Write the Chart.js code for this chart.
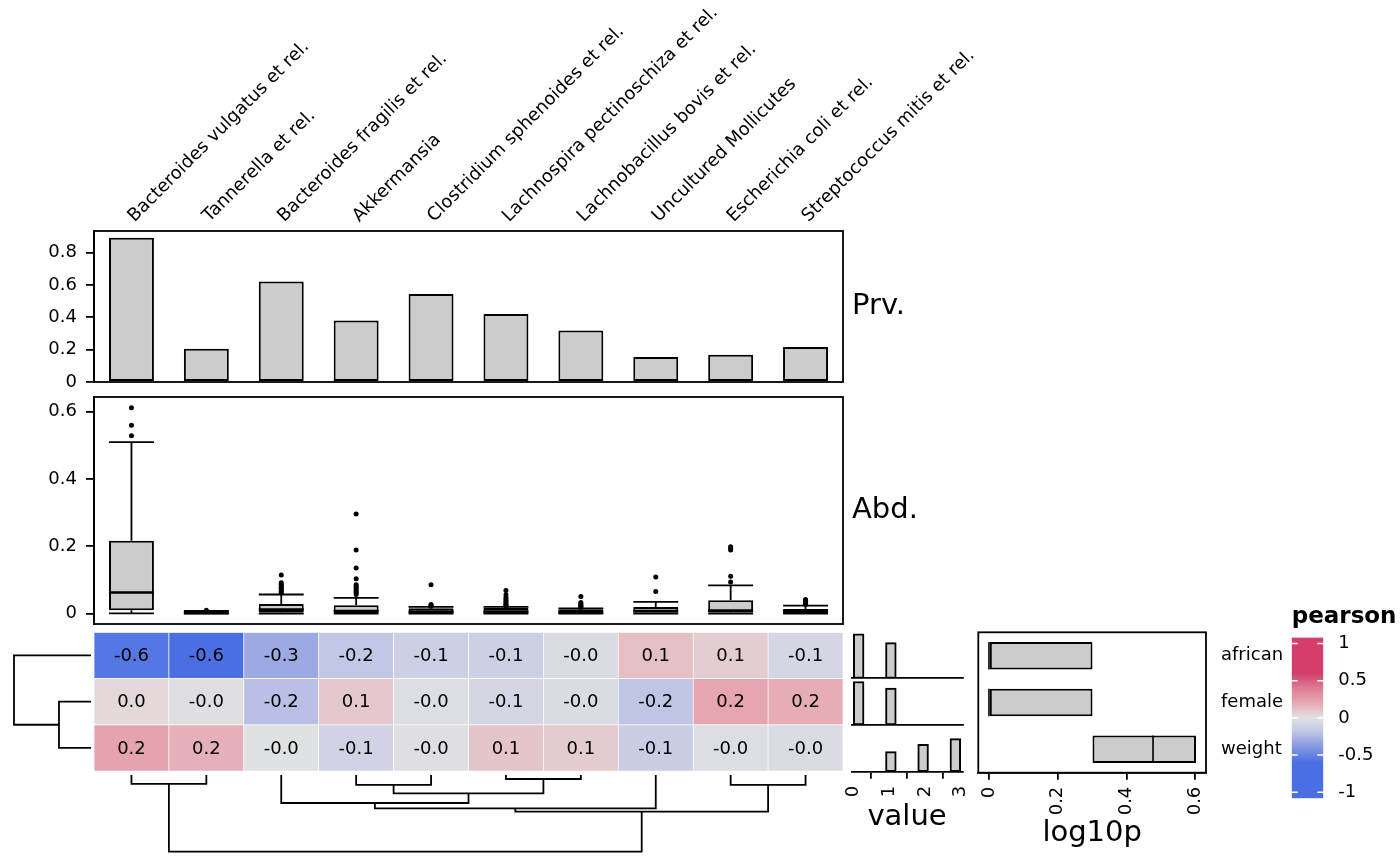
<!DOCTYPE html>
<html>
<head>
<meta charset="utf-8">
<script src="https://cdn.jsdelivr.net/npm/chart.js@4.4.1/dist/chart.umd.min.js"></script>
<style>
  body { margin:0; background:#fff; }
  #wrap { position:relative; width:1400px; height:866px; overflow:hidden; background:#fff; }
  #wrap canvas { position:absolute; }
</style>
</head>
<body>
<div id="wrap">
  <canvas id="prvChart" width="1100" height="410" style="left:0;top:0"></canvas>
  <canvas id="abdChart" width="940" height="284" style="left:0;top:367px"></canvas>
  <canvas id="heatChart" width="850" height="150" style="left:0;top:625px"></canvas>
  <canvas id="rowDendro" width="94" height="150" style="left:0;top:625px"></canvas>
  <canvas id="colDendro" width="850" height="90" style="left:0;top:770px"></canvas>
  <canvas id="val1" width="175" height="50" style="left:820px;top:630px"></canvas>
  <canvas id="val2" width="175" height="50" style="left:820px;top:676px"></canvas>
  <canvas id="val3" width="175" height="112" style="left:820px;top:723px"></canvas>
  <canvas id="pChart" width="320" height="251" style="left:970px;top:600px"></canvas>
  <canvas id="legendChart" width="120" height="226" style="left:1280px;top:600px"></canvas>
</div>
<script>
// DATA
const taxa = ['Bacteroides vulgatus et rel.', 'Tannerella et rel.', 'Bacteroides fragilis et rel.',
  'Akkermansia', 'Clostridium sphenoides et rel.', 'Lachnospira pectinoschiza et rel.',
  'Lachnobacillus bovis et rel.', 'Uncultured Mollicutes', 'Escherichia coli et rel.',
  'Streptococcus mitis et rel.'];

const prevalence = [0.892, 0.206, 0.621, 0.380, 0.545, 0.421, 0.318, 0.155, 0.169, 0.217];
const prvTicks = [0, 0.2, 0.4, 0.6, 0.8];

const abdLo  = [0.001, 0, 0, 0, 0, 0, 0, 0, 0, 0];
const abdQ1  = [0.010, 0.001, 0.003, 0.002, 0.002, 0.002, 0.002, 0.003, 0.003, 0.002];
const abdMed = [0.063, 0.002, 0.012, 0.008, 0.006, 0.006, 0.005, 0.008, 0.009, 0.006];
const abdQ3  = [0.217, 0.005, 0.029, 0.025, 0.016, 0.017, 0.013, 0.020, 0.040, 0.014];
const abdHi  = [0.510, 0.008, 0.057, 0.047, 0.020, 0.020, 0.016, 0.035, 0.084, 0.024];
const abdOutliers = [
  [0.612, 0.560, 0.529],
  [0.010],
  [0.115, 0.092, 0.087, 0.083, 0.078, 0.074, 0.070, 0.066, 0.062],
  [0.296, 0.189, 0.136, 0.104, 0.086, 0.081, 0.077, 0.072, 0.067, 0.062, 0.057],
  [0.086, 0.027, 0.024, 0.022],
  [0.069, 0.056, 0.048, 0.042, 0.037, 0.032, 0.028, 0.024, 0.021],
  [0.051, 0.033, 0.029, 0.025, 0.022, 0.019],
  [0.109, 0.066],
  [0.199, 0.194, 0.189, 0.111, 0.094],
  [0.042, 0.039, 0.036, 0.033, 0.030, 0.027]
];
const abdTicks = [0, 0.2, 0.4, 0.6];

const covariates = ['african', 'female', 'weight'];
const pearsonAfrican = [-0.56, -0.63, -0.31, -0.18, -0.13, -0.12, -0.04, 0.12, 0.07, -0.08];
const pearsonFemale  = [0.03, -0.02, -0.21, 0.09, -0.03, -0.08, -0.04, -0.19, 0.21, 0.18];
const pearsonWeight  = [0.22, 0.17, -0.01, -0.10, -0.02, 0.10, 0.08, -0.14, -0.03, -0.04];

// dendrogram merges: [node a, node b, height]; leaves are 0..n-1, merge k is node n+k
const colMerges = [
  [0, 1, 0.117], [3, 4, 0.130], [5, 6, 0.052], [11, 12, 0.239], [2, 13, 0.365],
  [14, 7, 0.434], [8, 9, 0.130], [15, 16, 0.478], [10, 17, 1.0]
];
const rowMerges = [[1, 2, 0.416], [0, 3, 1.0]];

const histBins = [0.15, 0.45, 0.75, 1.05, 1.35, 1.65, 1.95, 2.25, 2.55, 2.85];
const countAfrican = [56, 0, 0, 45, 0, 0, 0, 0, 0, 0];
const countFemale  = [54, 0, 0, 46, 0, 0, 0, 0, 0, 0];
const countWeight  = [0, 0, 0, 25, 0, 0, 34, 0, 0, 41];
const valueTicks = [0, 1, 2, 3];

const log10pLow  = [0, 0, 0.301];
const log10pHigh = [0.301, 0.301, 0.602];
const log10pMed  = [0, 0, 0.477];
const log10pTicks = [0, 0.2, 0.4, 0.6];

const legendTicks = [1, 0.5, 0, -0.5, -1];

// ======================================
// HELPERS
// ======================================
Chart.defaults.font.family = "'DejaVu Sans', sans-serif";
Chart.defaults.font.size = 18;
Chart.defaults.color = '#000';
Chart.defaults.animation = false;
Chart.defaults.plugins.legend.display = false;
Chart.defaults.plugins.tooltip.enabled = false;

const FONT = "'DejaVu Sans', sans-serif";
const GREY = '#CCCCCC';
const LW = 2;

const fmt = v => v === 0 ? '0' : String(v);
const fixedTicks = arr => scale => { scale.ticks = arr.map(v => ({value: v})); };

const negStops = [[0, '#E2E2E2'], [0.3, '#C3C7E6'], [0.55, '#97A4E2'], [1, '#4A6FE3']];
const posStops = [[0, '#E2E2E2'], [0.33, '#E6A8B3'], [0.66, '#DE7D94'], [1, '#D33F6A']];

function hex(c){ return [1, 3, 5].map(k => parseInt(c.substr(k, 2), 16)); }

function colorFor(v){
  const t = Math.min(Math.abs(v) / 0.6, 1);
  const stops = v < 0 ? negStops : posStops;
  for(let k = 1; k < stops.length; k++){
    if(t <= stops[k][0]){
      const [t0, c0] = stops[k - 1], [t1, c1] = stops[k];
      const f = (t - t0) / (t1 - t0);
      const a = hex(c0), b = hex(c1);
      return 'rgb(' + a.map((x, j) => Math.round(x + (b[j] - x) * f)).join(',') + ')';
    }
  }
  return stops[stops.length - 1][1];
}

const frame = {
  id: 'frame',
  afterDraw(chart){
    const {ctx, chartArea: a} = chart;
    ctx.save();
    ctx.strokeStyle = '#000';
    ctx.lineWidth = 1.8;
    ctx.strokeRect(a.left, a.top, a.right - a.left, a.bottom - a.top);
    ctx.restore();
  }
};

function sideLabel(text){
  return {
    id: 'sideLabel',
    afterDraw(chart){
      const {ctx, chartArea: a} = chart;
      ctx.save();
      ctx.font = '29px ' + FONT;
      ctx.fillStyle = '#000';
      ctx.textBaseline = 'middle';
      ctx.fillText(text, a.right + 9, (a.top + a.bottom) / 2);
      ctx.restore();
    }
  };
}

function yAxis(min, max, ticks, width){
  return {
    min, max,
    afterBuildTicks: fixedTicks(ticks),
    afterFit: s => { s.width = width; },
    ticks: { callback: fmt, padding: 9 },
    grid: { drawOnChartArea: false, tickLength: 8, color: '#000', lineWidth: 1.8 },
    border: { color: '#000', width: 1.8 }
  };
}

function dendroSegments(merges, n){
  const pos = [], h = [];
  for(let i = 0; i < n; i++){ pos.push(i); h.push(0); }
  const segs = [];
  merges.forEach(([a, b, ht]) => {
    segs.push([[pos[a], h[a]], [pos[a], ht], [pos[b], ht], [pos[b], h[b]]]);
    pos.push((pos[a] + pos[b]) / 2);
    h.push(ht);
  });
  return segs;
}

function lineDataset(points){
  return {
    data: points,
    showLine: true,
    borderColor: '#000',
    borderWidth: 1.8,
    pointRadius: 0,
    tension: 0,
    clip: false
  };
}

// ======================================
// PREVALENCE
// ======================================
const topLabels = {
  id: 'topLabels',
  afterDraw(chart){
    const xs = chart.scales.x, ctx = chart.ctx;
    ctx.save();
    ctx.font = '18px ' + FONT;
    ctx.fillStyle = '#000';
    ctx.textAlign = 'left';
    ctx.textBaseline = 'alphabetic';
    taxa.forEach((t, i) => {
      ctx.save();
      ctx.translate(xs.getPixelForValue(i) + 3, chart.chartArea.top - 8.5);
      ctx.rotate(-Math.PI / 4);
      ctx.fillText(t, 0, 0);
      ctx.restore();
    });
    ctx.restore();
  }
};

new Chart(document.getElementById('prvChart'), {
  type: 'bar',
  data: {
    labels: taxa,
    datasets: [{
      data: prevalence,
      backgroundColor: GREY,
      borderColor: '#000',
      borderWidth: LW,
      borderSkipped: false,
      categoryPercentage: 1,
      barPercentage: 0.6
    }]
  },
  options: {
    responsive: false,
    layout: { padding: { top: 231, bottom: 28, left: 0, right: 257 } },
    scales: {
      x: { display: false },
      y: yAxis(0, 0.934, prvTicks, 94)
    }
  },
  plugins: [frame, topLabels, sideLabel('Prv.')]
});

// ======================================
// ABUNDANCE (boxplots)
// ======================================
const boxWhiskers = {
  id: 'boxWhiskers',
  afterDatasetsDraw(chart){
    const ys = chart.scales.y, ctx = chart.ctx;
    const bars = chart.getDatasetMeta(0).data;
    const line = (x1, y1, x2, y2) => { ctx.beginPath(); ctx.moveTo(x1, y1); ctx.lineTo(x2, y2); ctx.stroke(); };
    ctx.save();
    ctx.strokeStyle = '#000';
    bars.forEach((bar, i) => {
      const x = bar.x, hw = bar.width / 2;
      const yHi = ys.getPixelForValue(abdHi[i]), yQ3 = ys.getPixelForValue(abdQ3[i]);
      const yQ1 = ys.getPixelForValue(abdQ1[i]), yLo = ys.getPixelForValue(abdLo[i]);
      const yMed = ys.getPixelForValue(abdMed[i]);
      ctx.lineWidth = 1.8;
      line(x, yQ3, x, yHi);
      line(x - hw, yHi, x + hw, yHi);
      line(x, yQ1, x, yLo);
      line(x - hw, yLo, x + hw, yLo);
      ctx.lineWidth = 2.6;
      line(x - hw, yMed, x + hw, yMed);
    });
    ctx.restore();
  }
};

const outlierPoints = [];
abdOutliers.forEach((list, i) => list.forEach(v => outlierPoints.push({x: taxa[i], y: v})));

new Chart(document.getElementById('abdChart'), {
  type: 'bar',
  data: {
    labels: taxa,
    datasets: [{
      data: taxa.map((t, i) => [abdQ1[i], abdQ3[i]]),
      backgroundColor: GREY,
      borderColor: '#000',
      borderWidth: LW,
      borderSkipped: false,
      categoryPercentage: 1,
      barPercentage: 0.6
    }, {
      type: 'scatter',
      data: outlierPoints,
      pointRadius: 2.5,
      pointBackgroundColor: '#000',
      pointBorderWidth: 0
    }]
  },
  options: {
    responsive: false,
    layout: { padding: { top: 30, bottom: 27, left: 0, right: 97 } },
    scales: {
      x: { display: false },
      y: yAxis(-0.0307, 0.644, abdTicks, 94)
    }
  },
  plugins: [boxWhiskers, frame, sideLabel('Abd.')]
});

// ======================================
// HEATMAP
// ======================================
const heatRows = [pearsonAfrican, pearsonFemale, pearsonWeight];

const cellText = {
  id: 'cellText',
  afterDatasetsDraw(chart){
    const ctx = chart.ctx;
    ctx.save();
    ctx.font = '18px ' + FONT;
    ctx.fillStyle = '#000';
    ctx.textAlign = 'center';
    ctx.textBaseline = 'middle';
    chart.data.datasets.forEach((ds, d) => {
      chart.getDatasetMeta(d).data.forEach((el, i) => {
        const p = el.getCenterPoint();
        ctx.fillText(ds.values[i].toFixed(1), p.x, p.y + 1);
      });
    });
    ctx.restore();
  }
};

new Chart(document.getElementById('heatChart'), {
  type: 'bar',
  data: {
    labels: taxa,
    // bottom row first, so the stack reads african / female / weight from the top
    datasets: heatRows.slice().reverse().map(vals => ({
      data: vals.map(() => 1),
      values: vals,
      backgroundColor: vals.map(colorFor),
      borderColor: '#FFFFFF',
      borderWidth: 0.7,
      borderSkipped: false,
      categoryPercentage: 1,
      barPercentage: 1
    }))
  },
  options: {
    responsive: false,
    layout: { padding: { top: 7.3, bottom: 4, left: 94, right: 7 } },
    scales: {
      x: { display: false, stacked: true },
      y: { display: false, stacked: true, min: 0, max: 3 }
    }
  },
  plugins: [cellText]
});

// ======================================
// DENDROGRAMS
// ======================================
new Chart(document.getElementById('rowDendro'), {
  type: 'scatter',
  data: {
    datasets: dendroSegments(rowMerges, covariates.length)
      .map(s => lineDataset(s.map(([p, h]) => ({x: h, y: p}))))
  },
  options: {
    responsive: false,
    layout: { padding: { top: 7.3, bottom: 4, left: 14, right: 3 } },
    scales: {
      x: { display: false, min: 0, max: 1, reverse: true },
      y: { display: false, min: -0.5, max: 2.5, reverse: true }
    }
  }
});

new Chart(document.getElementById('colDendro'), {
  type: 'scatter',
  data: {
    datasets: dendroSegments(colMerges, taxa.length)
      .map(s => lineDataset(s.map(([p, h]) => ({x: p, y: h}))))
  },
  options: {
    responsive: false,
    layout: { padding: { top: 5, bottom: 8.3, left: 94, right: 7 } },
    scales: {
      x: { display: false, min: -0.5, max: 9.5 },
      y: { display: false, min: 0, max: 1, reverse: true }
    }
  }
});

// ======================================
// VALUE HISTOGRAMS
// ======================================
function valueChart(id, counts, showAxis, padTop, padBottom, axisH){
  return new Chart(document.getElementById(id), {
    type: 'bar',
    data: {
      datasets: [{
        data: histBins.map((b, i) => ({x: b, y: counts[i]})),
        backgroundColor: GREY,
        borderColor: '#000',
        borderWidth: LW,
        borderSkipped: false,
        categoryPercentage: 1,
        barPercentage: 1
      }]
    },
    options: {
      responsive: false,
      layout: { padding: { top: padTop, bottom: padBottom, left: 31.5, right: 32.5 } },
      scales: {
        x: {
          type: 'linear',
          offset: false,
          min: -0.05,
          max: 3.05,
          afterBuildTicks: fixedTicks(valueTicks),
          afterFit: s => { s.height = axisH; },
          ticks: { display: showAxis, minRotation: 90, maxRotation: 90, padding: 7, callback: fmt },
          grid: { display: showAxis, drawOnChartArea: false, tickLength: 7, color: '#000', lineWidth: 1.8 },
          border: { color: '#000', width: 1.8 },
          title: { display: showAxis, text: 'value', font: { size: 29 }, padding: 0 }
        },
        y: { display: false, min: 0, max: 58 }
      }
    }
  });
}

valueChart('val1', countAfrican, false, 2.3, 1.7, 0);
valueChart('val2', countFemale, false, 2.3, 1.0, 0);
valueChart('val3', countWeight, true, 2, 0, 63.3);

// ======================================
// LOG10P
// ======================================
const medianLines = {
  id: 'medianLines',
  afterDatasetsDraw(chart){
    const xs = chart.scales.x, ctx = chart.ctx;
    ctx.save();
    ctx.strokeStyle = '#000';
    ctx.lineWidth = 1.6;
    chart.getDatasetMeta(0).data.forEach((bar, i) => {
      const x = xs.getPixelForValue(log10pMed[i]);
      ctx.beginPath();
      ctx.moveTo(x, bar.y - bar.height / 2);
      ctx.lineTo(x, bar.y + bar.height / 2);
      ctx.stroke();
    });
    ctx.restore();
  }
};

new Chart(document.getElementById('pChart'), {
  type: 'bar',
  data: {
    labels: covariates,
    datasets: [{
      data: covariates.map((c, i) => [log10pLow[i], log10pHigh[i]]),
      backgroundColor: GREY,
      borderColor: '#000',
      borderWidth: LW,
      borderSkipped: false,
      categoryPercentage: 1,
      barPercentage: 0.59
    }]
  },
  options: {
    responsive: false,
    indexAxis: 'y',
    layout: { padding: { top: 32.3, bottom: 0, left: 8.3, right: 0 } },
    scales: {
      x: {
        min: -0.031,
        max: 0.631,
        afterBuildTicks: fixedTicks(log10pTicks),
        afterFit: s => { s.height = 78.3; },
        ticks: { minRotation: 90, maxRotation: 90, padding: 7, callback: fmt },
        grid: { drawOnChartArea: false, tickLength: 7, color: '#000', lineWidth: 1.8 },
        border: { color: '#000', width: 1.8 },
        title: { display: true, text: 'log10p', font: { size: 29 }, padding: 0 }
      },
      y: {
        position: 'right',
        afterFit: s => { s.width = 84; },
        ticks: { padding: 7 },
        grid: { display: false },
        border: { display: false }
      }
    }
  },
  plugins: [medianLines, frame]
});

// ======================================
// LEGEND
// ======================================
const legendMarks = {
  id: 'legendMarks',
  afterDatasetsDraw(chart){
    const ys = chart.scales.y, a = chart.chartArea, ctx = chart.ctx;
    ctx.save();
    ctx.strokeStyle = '#FFFFFF';
    ctx.lineWidth = 1.5;
    legendTicks.forEach(v => {
      const y = ys.getPixelForValue(v);
      ctx.beginPath();
      ctx.moveTo(a.left, y); ctx.lineTo(a.left + 6, y);
      ctx.moveTo(a.right - 6, y); ctx.lineTo(a.right, y);
      ctx.stroke();
    });
    ctx.restore();
  }
};

new Chart(document.getElementById('legendChart'), {
  type: 'bar',
  data: {
    labels: ['pearson'],
    datasets: [{
      data: [[-1.08, 1.08]],
      backgroundColor: (c) => {
        const chart = c.chart, ys = chart.scales.y;
        if(!chart.chartArea || !ys) return '#E2E2E2';
        const g = chart.ctx.createLinearGradient(0, ys.getPixelForValue(-1.08), 0, ys.getPixelForValue(1.08));
        for(let k = 0; k <= 54; k++){
          g.addColorStop(k / 54, colorFor(-1.08 + 2.16 * k / 54));
        }
        return g;
      },
      borderWidth: 0,
      categoryPercentage: 1,
      barPercentage: 1
    }]
  },
  options: {
    responsive: false,
    layout: { padding: { top: 0, bottom: 27.7, left: 11.7, right: 0 } },
    plugins: {
      title: {
        display: true,
        text: 'pearson',
        align: 'start',
        color: '#000',
        font: { size: 23, weight: 'bold' },
        padding: { top: 3.4, bottom: 6.5 }
      }
    },
    scales: {
      x: { display: false },
      y: {
        min: -1.08,
        max: 1.08,
        position: 'right',
        afterBuildTicks: fixedTicks(legendTicks),
        afterFit: s => { s.width = 76.7; },
        ticks: { callback: fmt, padding: 7 },
        grid: { display: false },
        border: { display: false }
      }
    }
  },
  plugins: [legendMarks]
});
</script>
</body>
</html>
